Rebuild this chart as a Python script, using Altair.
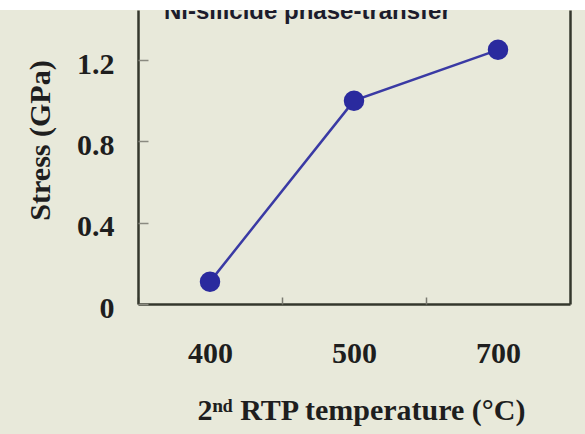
import altair as alt
import pandas as pd

# ---- data ----
temperatures = ["400", "500", "700"]
stress_gpa = [0.11, 1.00, 1.25]
y_tick_values = [0, 0.4, 0.8, 1.2]
panel_title = ["Ni-silicide phase-transfer"]

df = pd.DataFrame({"temp": temperatures, "stress": stress_gpa})
title_df = pd.DataFrame({"label": panel_title})

BG = "#e8e9da"
FRAME = "#34372c"
SERIF = "Liberation Serif"

x_scale = alt.Scale(type="point", padding=0.5, domain=temperatures)
y_scale = alt.Scale(domain=[0, 1.446], nice=False, zero=True)

base = alt.Chart(df)

# main axes: domain lines + labels + titles
x_main = alt.X(
    "temp:N", scale=x_scale, sort=temperatures,
    axis=alt.Axis(
        orient="bottom", domain=True, domainColor=FRAME, domainWidth=2.5,
        ticks=False, labelAngle=0, labelFont=SERIF, labelFontSize=30,
        labelFontWeight="bold", labelColor="#1e1e1e", labelPadding=34,
        labelBaseline="top",
        title="2ⁿᵈ RTP temperature (°C)", titleFont=SERIF, titleFontSize=30,
        titleFontWeight="bold", titleColor="#1e1e1e",
        titleX=223, titleY=106, titleAlign="center", titleBaseline="middle",
    ),
)
y_main = alt.Y(
    "stress:Q", scale=y_scale,
    axis=alt.Axis(
        orient="left", values=y_tick_values, domain=True, domainColor=FRAME,
        domainWidth=2.5, ticks=False, grid=False,
        labelExpr="datum.value == 0 ? '0' : format(datum.value, '.1f')",
        labelFont=SERIF, labelFontSize=30, labelFontWeight="bold",
        labelColor="#1e1e1e", labelPadding=24, labelOffset=4,
        title="Stress (GPa)", titleFont=SERIF, titleFontSize=30,
        titleFontWeight="bold", titleColor="#1e1e1e", titleAngle=270,
        titleX=-98, titleY=130, titleAlign="center", titleBaseline="middle",
    ),
)

line = base.mark_line(color="#3a3aa4", strokeWidth=2.5).encode(x=x_main, y=y_main)
points = base.mark_circle(size=420, color="#2a2a9e", opacity=1).encode(
    x=alt.X("temp:N", scale=x_scale, sort=temperatures, axis=None),
    y=alt.Y("stress:Q", scale=y_scale, axis=None),
)

# inward tick marks (tick-only axes shifted into the plot)
ticks_layer = base.mark_point(opacity=0).encode(
    x=alt.X(
        "temp:N", scale=x_scale, sort=temperatures,
        axis=alt.Axis(orient="bottom", offset=-7, tickSize=7, tickOffset=-72,
                      tickColor="#7a7a70", tickWidth=1.5, labels=False,
                      domain=False, title=None),
    ),
    y=alt.Y(
        "stress:Q", scale=y_scale,
        axis=alt.Axis(orient="left", offset=-10, tickSize=10, values=y_tick_values,
                      tickColor="#8a8a80", tickWidth=1.5, labels=False,
                      domain=False, grid=False, title=None),
    ),
)

# right frame line
right_frame = base.mark_point(opacity=0).encode(
    x=alt.X("temp:N", scale=x_scale, sort=temperatures, axis=None),
    y=alt.Y(
        "stress:Q", scale=y_scale,
        axis=alt.Axis(orient="right", domain=True, domainColor=FRAME,
                      domainWidth=2.5, ticks=False, labels=False, grid=False,
                      title=None),
    ),
)

# partially hidden panel title + white strip at the top
title_text = alt.Chart(title_df).mark_text(
    font="Liberation Sans", fontSize=24, fontWeight="bold", color="#1c1c2c",
    align="left", baseline="alphabetic",
).encode(text="label:N", x=alt.value(26), y=alt.value(9))

white_strip = alt.Chart(title_df).mark_rect(color="white").encode(
    x=alt.value(-140), x2=alt.value(450), y=alt.value(-12), y2=alt.value(0)
)

chart = (
    alt.layer(line, points, ticks_layer, right_frame, title_text, white_strip)
    .resolve_axis(x="independent", y="independent")
    .properties(
        width=432, height=294,
        autosize=alt.AutoSizeParams(type="none"),
        padding={"left": 138, "top": 10, "right": 15, "bottom": 130},
        background=BG,
    )
    .configure_view(stroke=None)
)

chart.save("out.html", embed_options={"renderer": "svg", "actions": False})
